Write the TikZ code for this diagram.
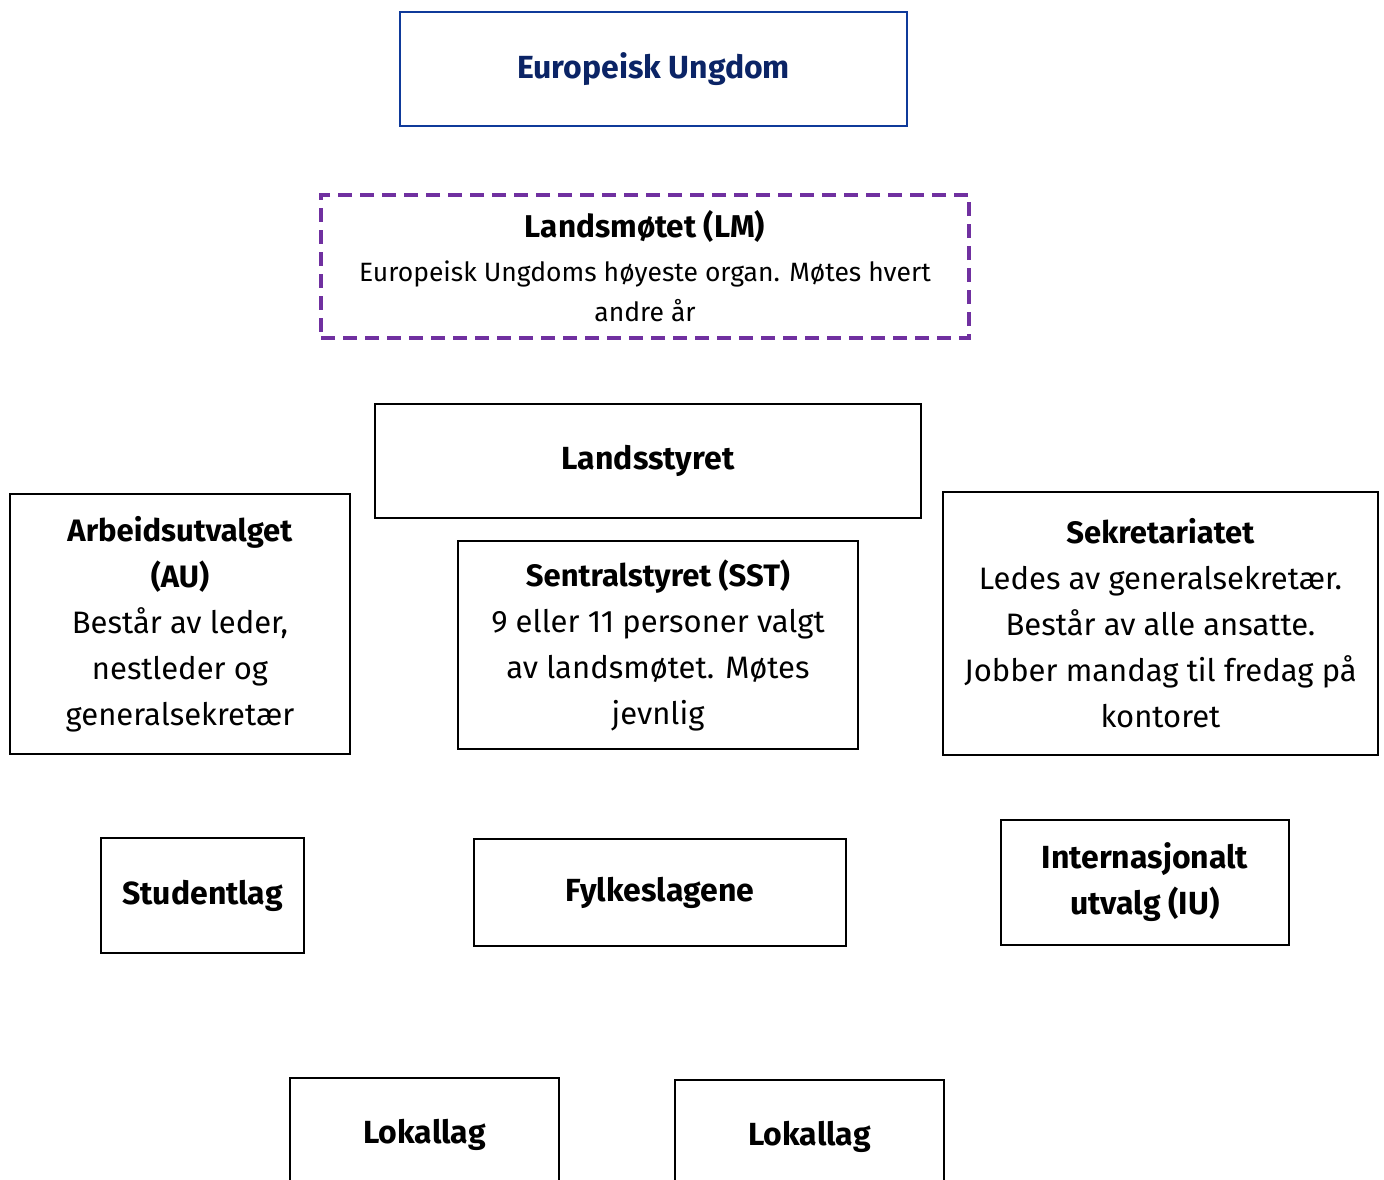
\documentclass[tikz,border=0pt]{standalone}
\usepackage{fontspec}
\setmainfont{Fira Sans}
\usetikzlibrary{positioning}

\definecolor{euframe}{HTML}{0F3A9A}
\definecolor{eutext}{HTML}{0B2466}
\definecolor{lmpurple}{HTML}{7030A0}

\tikzset{
  unit/.style={draw, line width=1.3pt, align=center, inner sep=0pt,
    font=\fontsize{31}{46}\selectfont},
  headunit/.style={unit, font=\fontsize{32}{46}\selectfont\bfseries},
}

\begin{document}
\begin{tikzpicture}[x=1pt,y=-1pt]
\useasboundingbox (0,0) rectangle (1384,1180);

% top level
\node[headunit, draw=euframe, line width=2.4pt, text=eutext,
  minimum width=507, minimum height=114] (eu) at (653.5,69) {Europeisk Ungdom};
\node[unit, draw=lmpurple, line width=3.5pt, dash pattern=on 14pt off 8pt,
  font=\fontsize{26.5}{40}\selectfont,
  minimum width=648, minimum height=143] (lm) at (645,266.5)
  {{\bfseries\fontsize{31.5}{40}\selectfont Landsmøtet (LM)}\\[4pt]
   Europeisk Ungdoms høyeste organ. Møtes hvert\\andre år};

% styrer
\node[headunit, minimum width=546, minimum height=114] (ls) at (648,461) {Landsstyret};
\node[unit, minimum width=340, minimum height=260] (au) at (180,624)
  {\textbf{Arbeidsutvalget}\\\textbf{(AU)}\\Består av leder,\\nestleder og\\generalsekretær};
\node[unit, minimum width=400, minimum height=208] (sst) at (658,645)
  {\textbf{Sentralstyret (SST)}\\9 eller 11 personer valgt\\av landsmøtet. Møtes\\jevnlig};
\node[unit, minimum width=435, minimum height=263] (sek) at (1160.5,623.5)
  {\textbf{Sekretariatet}\\Ledes av generalsekretær.\\Består av alle ansatte.\\Jobber mandag til fredag på\\kontoret};

% lag og utvalg
\node[headunit, minimum width=203, minimum height=115] (stud) at (202.5,895.5) {Studentlag};
\node[headunit, minimum width=372, minimum height=107] (fylke) at (660,892.5) {Fylkeslagene};
\node[headunit, minimum width=288, minimum height=125] (iu) at (1145,882.5)
  {Internasjonalt\\utvalg (IU)};
\node[headunit, minimum width=269, minimum height=114] (lok1) at (424.5,1135) {Lokallag};
\node[headunit, minimum width=269, minimum height=114] (lok2) at (809.5,1137) {Lokallag};
\end{tikzpicture}
\end{document}
